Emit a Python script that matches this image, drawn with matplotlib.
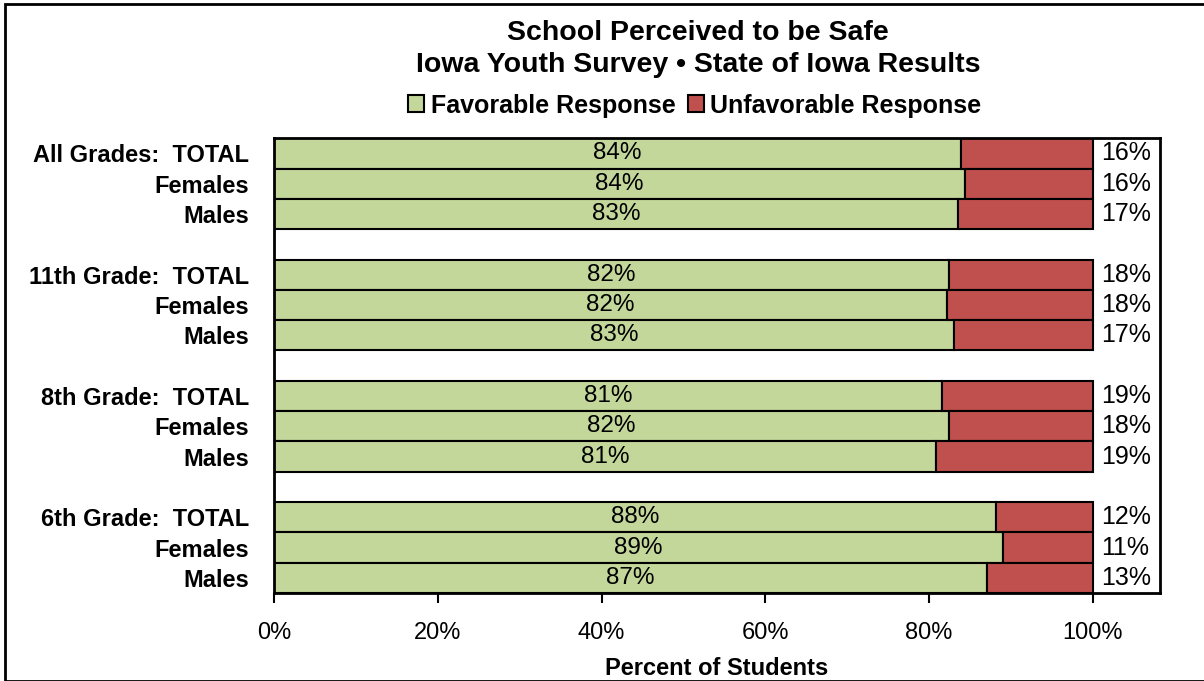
import matplotlib
matplotlib.use("Agg")
import matplotlib.pyplot as plt
import numpy as np
from matplotlib.patches import Rectangle

plt.rcParams['font.family'] = ['Liberation Sans', 'DejaVu Sans']

# Data
row_labels = ["All Grades:  TOTAL", "Females", "Males",
              "11th Grade:  TOTAL", "Females", "Males",
              "8th Grade:  TOTAL", "Females", "Males",
              "6th Grade:  TOTAL", "Females", "Males"]
favorable = [83.9, 84.4, 83.5, 82.4, 82.2, 83.0, 81.6, 82.4, 80.8, 88.2, 89.0, 87.1]
fav_labels = ["84%", "84%", "83%", "82%", "82%", "83%", "81%", "82%", "81%", "88%", "89%", "87%"]
unf_labels = ["16%", "16%", "17%", "18%", "18%", "17%", "19%", "18%", "19%", "12%", "11%", "13%"]
unfavorable = [100 - v for v in favorable]
positions = [0, 1, 2, 4, 5, 6, 8, 9, 10, 12, 13, 14]
x_ticks = [0, 20, 40, 60, 80, 100]

GREEN = "#C4D79B"
RED = "#C0504D"

fig = plt.figure(figsize=(12.04, 6.81), dpi=100)
ax = fig.add_axes([0.2276, 0.1292, 0.7359, 0.6678])

ax.barh(positions, favorable, height=1.0, color=GREEN, edgecolor="black", linewidth=1.5,
        label="Favorable Response")
ax.barh(positions, unfavorable, left=favorable, height=1.0, color=RED, edgecolor="black",
        linewidth=1.5, label="Unfavorable Response")

for p, f, fl, ul in zip(positions, favorable, fav_labels, unf_labels):
    ax.text(f / 2, p, fl, ha="center", va="center", fontsize=17.5)
    ax.text(101, p, ul, ha="left", va="center", fontsize=18)

ax.set_ylim(14.5, -0.5)
ax.set_xlim(0, 108.2)
ax.set_yticks(positions)
ax.set_yticklabels(row_labels, fontsize=17, fontweight="bold")
ax.tick_params(axis="y", length=0, pad=18)
ax.set_xticks(x_ticks)
ax.set_xticklabels([f"{t}%" for t in x_ticks])
ax.tick_params(axis="x", direction="out", length=7, width=1.5, pad=14, labelsize=17)
ax.set_xlabel("Percent of Students", fontsize=17, fontweight="bold", labelpad=9)
for s in ax.spines.values():
    s.set_linewidth(2)

fig.text(0.58, 0.952, "School Perceived to be Safe", ha="center", va="center",
         fontsize=20.5, fontweight="bold")
fig.text(0.58, 0.905, "Iowa Youth Survey \u2022 State of Iowa Results", ha="center", va="center",
         fontsize=20.5, fontweight="bold")

fig.legend(loc="center", bbox_to_anchor=(0.577, 0.845), ncol=2, frameon=False,
           prop={"weight": "bold", "size": 18}, handlelength=0.65, handleheight=0.65,
           handletextpad=0.25, columnspacing=0.5)

fig.patches.append(Rectangle((5 / 1204, 0), 1.2, 1 - 4 / 681, transform=fig.transFigure,
                             fill=False, edgecolor="black", linewidth=2))

fig.savefig("out.png", dpi=100)
